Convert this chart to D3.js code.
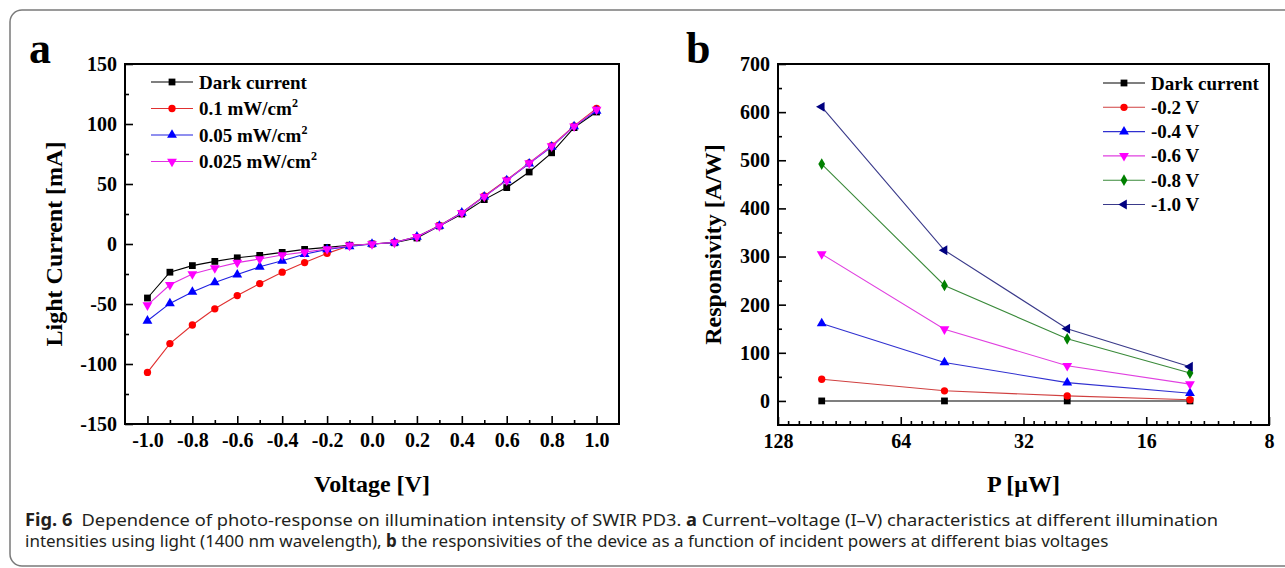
<!DOCTYPE html>
<html>
<head>
<meta charset="utf-8">
<script src="https://cdn.jsdelivr.net/npm/d3@7"></script>
<style>
  body { margin: 0; background: #fff; }
  svg { display: block; }
  .serif { font-family: "Liberation Serif", "Times New Roman", serif; font-weight: bold; }
</style>
</head>
<body>
<div id="chart"></div>
<script>
// ---- panel a: I-V curves ----
const voltage = [-1.0, -0.9, -0.8, -0.7, -0.6, -0.5, -0.4, -0.3, -0.2, -0.1, 0.0,
                 0.1, 0.2, 0.3, 0.4, 0.5, 0.6, 0.7, 0.8, 0.9, 1.0];
const darkCurrent = [-45, -23.5, -18, -14.5, -11.5, -9.5, -7, -4.5, -2.8, -1, 0,
                     1, 5, 15, 25, 37, 47, 60, 76, 97, 110];
const light01 = [-107, -83, -67.5, -54, -43, -33, -23.5, -15.5, -7.8, -1.5, 0,
                 1.5, 6, 15.5, 26, 40, 53.5, 67.5, 82, 98.5, 113];
const light005 = [-64, -49.5, -40, -32, -25.5, -19, -14, -8.5, -4.5, -2, 0,
                  1.2, 6, 15, 26, 39.5, 53, 67, 81, 98, 111];
const light0025 = [-51, -34, -25, -20, -15.5, -12.5, -9.2, -6.8, -4.2, -1.2, 0,
                   1.2, 6, 15, 26, 39.5, 53, 67.5, 81.5, 98, 112];
const ivLabels = ['Dark current', '0.1 mW/cm', '0.05 mW/cm', '0.025 mW/cm'];
const voltTicks = [-1.0, -0.8, -0.6, -0.4, -0.2, 0.0, 0.2, 0.4, 0.6, 0.8, 1.0];
const currentTicks = [-150, -100, -50, 0, 50, 100, 150];

// ---- panel b: responsivity ----
const power = [100, 50, 25, 12.5];
const respDark = [0, 0, 0, 0];
const resp02 = [45, 21, 10.5, 2.5];
const resp04 = [161, 80, 38, 16];
const resp06 = [305, 149, 73, 35];
const resp08 = [492, 240, 129, 58];
const resp10 = [611, 313, 150, 71];
const respLabels = ['Dark current', '-0.2 V', '-0.4 V', '-0.6 V', '-0.8 V', '-1.0 V'];
const powerTicks = [128, 64, 32, 16, 8];
const respTicks = [0, 100, 200, 300, 400, 500, 600, 700];

const W = 1285, H = 568;

const svg = d3.select('#chart').append('svg')
    .attr('width', W)
    .attr('height', H);

svg.append('rect')
    .attr('x', 10).attr('y', 10)
    .attr('width', 1320).attr('height', 556)
    .attr('rx', 12)
    .attr('fill', 'none')
    .attr('stroke', '#7a7a7a')
    .attr('stroke-width', 1.5);

const symbols = {
  square: d3.symbol(d3.symbolSquare, 46),
  circle: d3.symbol(d3.symbolCircle, 42),
  up: d3.symbol(d3.symbolTriangle, 42),
  down: d3.symbol(d3.symbolTriangle, 42),
  diamond: d3.symbol(d3.symbolDiamond, 40),
  left: d3.symbol(d3.symbolTriangle, 42)
};
const rotation = {square: 0, circle: 0, up: 0, down: 180, diamond: 0, left: -90};

function drawMarker(g, shape, color, x, y) {
  g.append('path')
      .attr('d', symbols[shape]())
      .attr('transform', `translate(${x},${y}) rotate(${rotation[shape]})`)
      .attr('fill', color);
}

function styleAxis(a) {
  a.attr('font-family', null).attr('font-size', null);
  a.select('.domain').remove();
  a.selectAll('text').attr('font-size', 20).attr('fill', '#000');
  a.selectAll('.tick line').attr('stroke', '#000').attr('stroke-width', 1.6);
}

function panel(opts) {
  const {x, y, xTicks, xMinor, yTicks, yMinor, series, xs, legend} = opts;
  const g = svg.append('g').attr('class', 'serif');

  // minor ticks
  g.append('g')
      .attr('transform', `translate(0,${y.range()[0]})`)
      .call(d3.axisBottom(x).tickValues(xMinor).tickSize(-4).tickSizeOuter(0).tickFormat(''))
      .call(styleAxis);
  g.append('g')
      .attr('transform', `translate(${x.range()[0]},0)`)
      .call(d3.axisLeft(y).tickValues(yMinor).tickSize(-4).tickSizeOuter(0).tickFormat(''))
      .call(styleAxis);

  // major ticks (plain hyphen for negatives, as in the figure)
  g.append('g')
      .attr('transform', `translate(0,${y.range()[0]})`)
      .call(d3.axisBottom(x).tickValues(xTicks).tickSize(-8).tickSizeOuter(0)
        .tickPadding(9).tickFormat(opts.xFormat))
      .call(styleAxis);
  g.append('g')
      .attr('transform', `translate(${x.range()[0]},0)`)
      .call(d3.axisLeft(y).tickValues(yTicks).tickSize(-8).tickSizeOuter(0)
        .tickPadding(8).tickFormat(d => String(d)))
      .call(styleAxis);

  // frame
  g.append('rect')
      .attr('x', x.range()[0]).attr('y', y.range()[1])
      .attr('width', x.range()[1] - x.range()[0])
      .attr('height', y.range()[0] - y.range()[1])
      .attr('fill', 'none')
      .attr('stroke', '#000')
      .attr('stroke-width', 2);

  const line = d3.line()
      .x((d, i) => x(xs[i]))
      .y(d => y(d));

  series.forEach(s => {
    g.append('path')
        .datum(s.values)
        .attr('d', line)
        .attr('fill', 'none')
        .attr('stroke', s.line)
        .attr('stroke-width', 1.1);
    s.values.forEach((v, i) => drawMarker(g, s.shape, s.color, x(xs[i]), y(v)));
  });

  // legend
  series.forEach((s, i) => {
    const ly = legend.y + i * legend.dy;
    g.append('line')
        .attr('x1', legend.x).attr('x2', legend.x + 42)
        .attr('y1', ly).attr('y2', ly)
        .attr('stroke', s.line).attr('stroke-width', 1.1);
    drawMarker(g, s.shape, s.color, legend.x + 21, ly);
    const t = g.append('text')
        .attr('x', legend.x + 48).attr('y', ly + 6.5)
        .attr('font-size', 19)
        .text(s.label);
    if (s.sup) {
      t.append('tspan').attr('dy', -8).attr('font-size', 12).text('2');
    }
  });

  // titles
  g.append('text')
      .attr('x', (x.range()[0] + x.range()[1]) / 2)
      .attr('y', 492)
      .attr('text-anchor', 'middle')
      .attr('font-size', 24)
      .text(opts.xTitle);
  g.append('text')
      .attr('transform', `translate(${opts.yTitleX},${(y.range()[0] + y.range()[1]) / 2}) rotate(-90)`)
      .attr('text-anchor', 'middle')
      .attr('font-size', 24)
      .text(opts.yTitle);
  g.append('text')
      .attr('x', opts.tag.x).attr('y', opts.tag.y)
      .attr('font-size', 44)
      .text(opts.tag.text);
}

// panel a
const xA = d3.scaleLinear().domain([-1.1, 1.1]).range([125, 619]);
const yA = d3.scaleLinear().domain([-150, 150]).range([424, 64]);
const voltMinor = [-0.9, -0.7, -0.5, -0.3, -0.1, 0.1, 0.3, 0.5, 0.7, 0.9];
const curMinor = [-125, -75, -25, 25, 75, 125];

panel({
  x: xA, y: yA, xs: voltage,
  xTicks: voltTicks, xMinor: voltMinor,
  yTicks: currentTicks, yMinor: curMinor,
  xFormat: d => d.toFixed(1),
  xTitle: 'Voltage [V]', yTitle: 'Light Current [mA]', yTitleX: 62,
  tag: {text: 'a', x: 29, y: 63},
  legend: {x: 151, y: 82, dy: 26.5},
  series: [
    {values: darkCurrent, label: ivLabels[0], shape: 'square', color: '#000', line: '#000'},
    {values: light01, label: ivLabels[1], sup: true, shape: 'circle', color: '#ff0000', line: '#e03030'},
    {values: light005, label: ivLabels[2], sup: true, shape: 'up', color: '#0000ff', line: '#2020e0'},
    {values: light0025, label: ivLabels[3], sup: true, shape: 'down', color: '#ff00ff', line: '#e030e0'}
  ]
});

// panel b
const xB = d3.scaleLog().base(2).domain([128, 8]).range([778, 1269]);
const yB = d3.scaleLinear().domain([-50, 700]).range([425, 64]);
const powerMinor = [];
[8, 16, 32, 64].forEach(lo => {
  for (let k = 1; k <= 8; k++) powerMinor.push(lo + lo * k / 9);
});
const respMinor = [50, 150, 250, 350, 450, 550, 650];

panel({
  x: xB, y: yB, xs: power,
  xTicks: powerTicks, xMinor: powerMinor,
  yTicks: respTicks, yMinor: respMinor,
  xFormat: d => String(d),
  xTitle: 'P [\u03bcW]', yTitle: 'Responsivity [A/W]', yTitleX: 721,
  tag: {text: 'b', x: 686, y: 63},
  legend: {x: 1103, y: 83, dy: 24.3},
  series: [
    {values: respDark, label: respLabels[0], shape: 'square', color: '#000', line: '#000'},
    {values: resp02, label: respLabels[1], shape: 'circle', color: '#ff0000', line: '#d04040'},
    {values: resp04, label: respLabels[2], shape: 'up', color: '#0000ff', line: '#3030d0'},
    {values: resp06, label: respLabels[3], shape: 'down', color: '#ff00ff', line: '#e040e0'},
    {values: resp08, label: respLabels[4], shape: 'diamond', color: '#008000', line: '#3a8a3a'},
    {values: resp10, label: respLabels[5], shape: 'left', color: '#000080', line: '#3a3a8a'}
  ]
});

// caption
const cap = svg.append('g')
    .attr('font-family', '"Noto Sans", "Open Sans", sans-serif')
    .attr('font-size', 17)
    .attr('fill', '#231f20');
const line1 = cap.append('text').attr('x', 25).attr('y', 526)
    .attr('textLength', 1193).attr('lengthAdjust', 'spacingAndGlyphs');
line1.append('tspan').attr('font-weight', 'bold').text('Fig. 6');
line1.append('tspan').text('\u2002Dependence of photo-response on illumination intensity of SWIR PD3. ');
line1.append('tspan').attr('font-weight', 'bold').text('a');
line1.append('tspan').text(' Current\u2013voltage (I\u2013V) characteristics at different illumination');
const line2 = cap.append('text').attr('x', 25).attr('y', 547);
line2.append('tspan').text('intensities using light (1400 nm wavelength), ');
line2.append('tspan').attr('font-weight', 'bold').text('b');
line2.append('tspan').text(' the responsivities of the device as a function of incident powers at different bias voltages');
</script>
</body>
</html>
